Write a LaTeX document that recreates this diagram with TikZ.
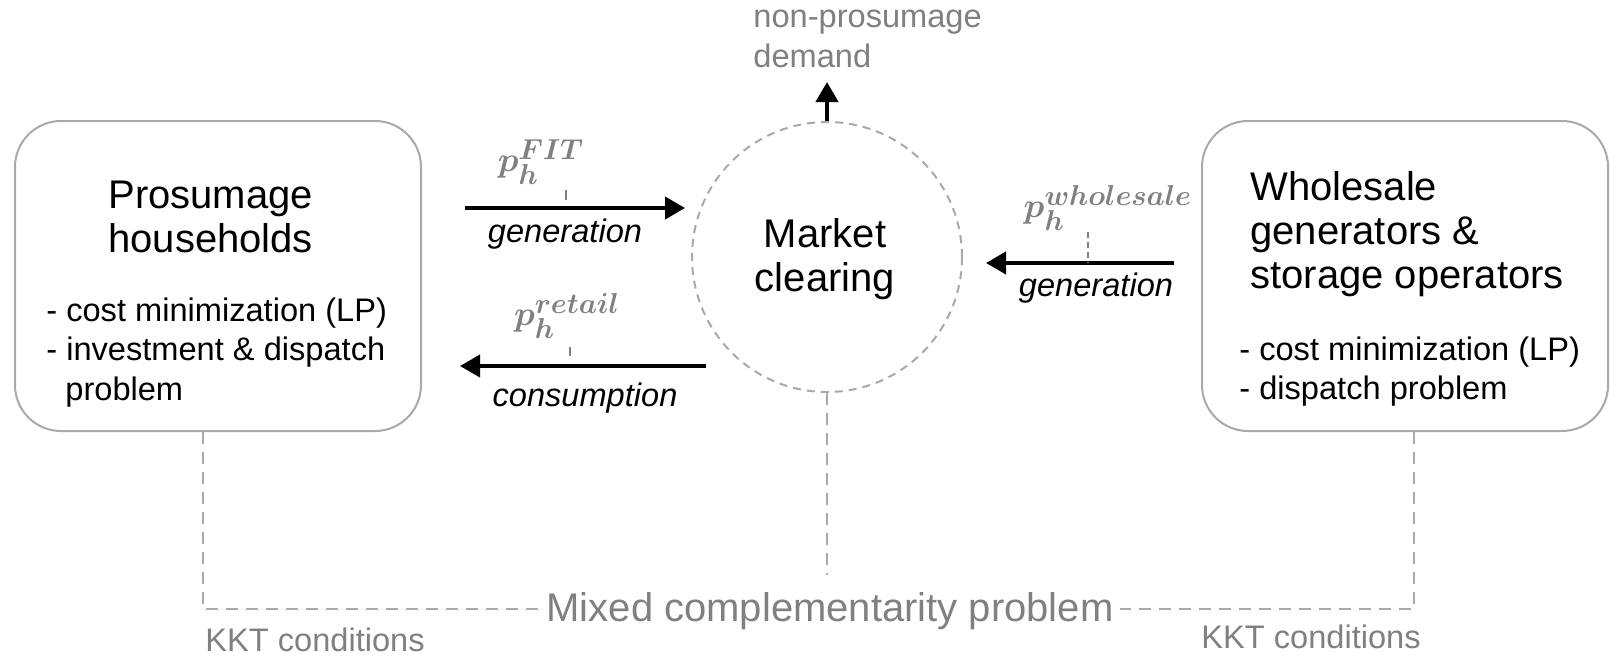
\documentclass[tikz,border=0pt]{standalone}
\usepackage{amsmath}
\usepackage{fontspec}
\setmainfont{Liberation Sans}
\usepackage{tikz}
\usetikzlibrary{arrows.meta,positioning}

\definecolor{txtgray}{HTML}{808080}
\definecolor{linegray}{HTML}{A9A9A9}

\begin{document}
\begin{tikzpicture}[x=0.5pt,y=-0.5pt]
            \edef\sizetitle{20pt}
            \tikzstyle{agent}=[draw=linegray,line width=1pt,rounded corners=23pt,minimum width=203pt,minimum height=155pt]
            \tikzstyle{market}=[circle,draw=linegray,line width=1pt,dash pattern=on 4pt off 3pt,minimum size=135pt]
            \tikzstyle{title}=[font=\fontsize{\sizetitle}{22pt}\selectfont,align=left,inner sep=0pt]
            \tikzstyle{bullets}=[font=\fontsize{16.3pt}{19.8pt}\selectfont,align=left,inner sep=0pt]
            \tikzstyle{flow}=[line width=2pt,-{Triangle[length=10pt,width=11pt]}]
            \tikzstyle{flowlabel}=[font=\fontsize{16.3pt}{19pt}\selectfont\itshape,inner sep=0pt]
            \tikzstyle{price}=[text=txtgray,font=\fontsize{19pt}{22pt}\selectfont\boldmath,inner sep=0pt]
            \tikzstyle{tick}=[draw=txtgray,line width=1pt]
            \tikzstyle{mcp}=[draw=linegray,line width=1pt,dash pattern=on 6pt off 4pt]
            \tikzstyle{kkt}=[font=\fontsize{16.3pt}{19.8pt}\selectfont,text=txtgray,inner sep=0pt,text depth=0pt,anchor=base west]

            \useasboundingbox (0,0) rectangle (1610,655);

            % agents and market
            \node [agent] (pros) at (218,276) {};
            \node [agent] (whole) at (1405,276) {};
            \node [market] (clear) at (827,257) {};
            \node [title,align=center] (cleartitle) at (825,259) {Market\\clearing};

            \node [title,anchor=west] (prostitle) at (108,217) {Prosumage\\households};
            \node [bullets,anchor=north west] (prosbul) at (46,297) {- cost minimization (LP)\\- investment \& dispatch\\\hspace*{9.5pt}problem};

            \node [title,anchor=west] (wholetitle) at (1250,234) {Wholesale\\generators \&\\storage operators};
            \node [bullets,anchor=north west] (wholebul) at (1239,336) {- cost minimization (LP)\\- dispatch problem};

            % non-prosumage demand
            \node [bullets,text=txtgray,anchor=west] (demand) at (753,39) {non-prosumage\\demand};
            \coordinate (demandtip) at (827,82);
            \draw [flow] (clear.north) -- (demandtip);

            % flows between agents and market
            \coordinate (genA) at (465,208);
            \coordinate (genB) at (685,208);
            \draw [flow] (genA) -- (genB);
            \node [price] (pfit) at (541,162) {$p_h^{FIT}$};
            \node [flowlabel] (genlab) at (565,234) {generation};
            \coordinate (fitA) at (566,190);
            \coordinate (fitB) at (566,200);
            \draw [tick] (fitA) -- (fitB);

            \coordinate (conA) at (706,366);
            \coordinate (conB) at (460,366);
            \draw [flow] (conA) -- (conB);
            \node [price] (pret) at (567,316) {$p_h^{retail}$};
            \node [flowlabel] (conlab) at (585,398) {consumption};
            \coordinate (retA) at (570,347);
            \coordinate (retB) at (570,356);
            \draw [tick] (retA) -- (retB);

            \coordinate (wgA) at (1174,263);
            \coordinate (wgB) at (986,263);
            \draw [flow] (wgA) -- (wgB);
            \node [price] (pwhole) at (1108,208) {$p_h^{wholesale}$};
            \node [flowlabel] (wglab) at (1096,288) {generation};
            \coordinate (wsA) at (1088,232);
            \draw [tick,dash pattern=on 3pt off 2pt] (wsA) -- (wsA |- wgA);

            % mixed complementarity problem
            \node [title,text=txtgray,inner sep=3pt] (mcp) at (830,611) {Mixed complementarity problem};
            \draw [mcp] (pros.south -| 203,0) -- (203,609) -- (mcp.west |- 0,609);
            \draw [mcp] (whole.south -| 1414,0) -- (1414,609) -- (mcp.east |- 0,609);
            \draw [mcp] (clear.south) -- (827,575);
            \node [kkt] (kktL) at (205,651) {KKT conditions};
            \node [kkt] (kktR) at (1201,648) {KKT conditions};
\end{tikzpicture}
\end{document}
